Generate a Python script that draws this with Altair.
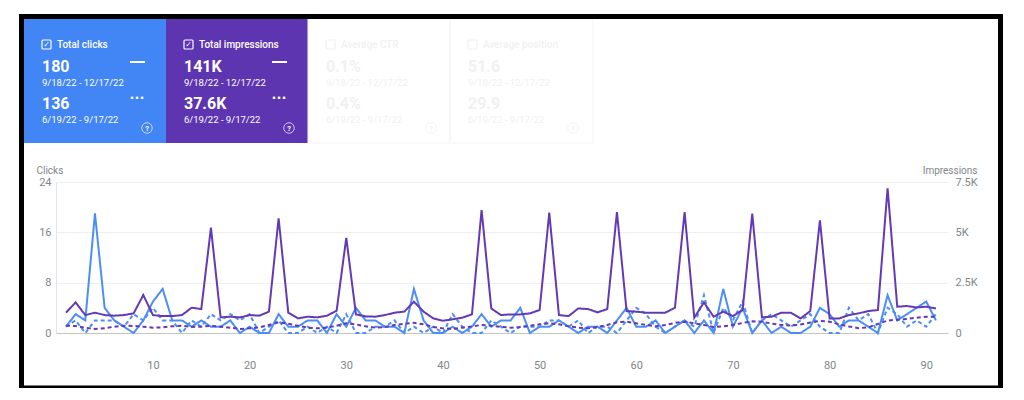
import altair as alt
import pandas as pd

# ---------------- data ----------------
days = list(range(1, 92))

clicks_current = [
    1, 3, 2, 19, 4, 2, 1, 0, 2, 5,
    7, 2, 2, 1, 2, 1, 1, 2, 0, 1,
    0, 0, 3, 1, 1, 2, 2, 0, 3, 1,
    4, 2, 2, 1, 1, 0, 7, 2, 0, 0,
    1, 0, 1, 3, 1, 2, 2, 4, 0, 1,
    1, 2, 1, 0, 1, 1, 0, 2, 4, 1,
    1, 2, 0, 1, 2, 0, 2, 0, 7, 1,
    4, 0, 2, 0, 1, 0, 0, 1, 4, 3,
    1, 2, 2, 1, 0, 6, 2, 3, 4, 5, 2,
]
clicks_previous = [
    1, 2, 0, 2, 2, 2, 1, 3, 2, 4,
    2, 2, 0, 2, 1, 3, 2, 3, 2, 3,
    0, 1, 2, 0, 0, 1, 0, 1, 0, 3,
    0, 0, 1, 1, 2, 0, 1, 0, 1, 0,
    3, 1, 0, 0, 2, 1, 0, 1, 1, 1,
    2, 2, 1, 2, 0, 1, 1, 0, 2, 4,
    3, 1, 0, 1, 2, 1, 6, 0, 4, 2,
    5, 0, 2, 3, 2, 1, 2, 3, 1, 0,
    0, 4, 2, 3, 0, 4, 3, 1, 2, 1, 3,
]
impressions_current = [
    1010, 1520, 890, 1010, 890, 860, 890, 975, 1885, 890,
    840, 840, 890, 1255, 1190, 5230, 775, 810, 775, 890,
    860, 1060, 5700, 1010, 725, 810, 775, 860, 1105, 4730,
    925, 825, 810, 890, 1010, 1060, 1555, 1060, 725, 610,
    680, 760, 925, 6110, 1220, 890, 925, 925, 975, 1140,
    5975, 890, 840, 1220, 1190, 1025, 1190, 6010, 1090, 1060,
    1010, 1010, 1010, 1255, 6010, 760, 1520, 810, 1060, 840,
    1140, 5925, 775, 810, 1010, 1010, 725, 1090, 5600, 725,
    725, 890, 975, 1090, 1140, 7190, 1305, 1340, 1270, 1305, 1220,
]
impressions_previous = [
    360, 350, 265, 200, 230, 315, 360, 350, 315, 265,
    280, 330, 360, 300, 315, 360, 315, 265, 200, 230,
    280, 400, 530, 460, 360, 265, 230, 265, 360, 480,
    430, 330, 265, 300, 400, 460, 510, 430, 300, 230,
    200, 265, 330, 400, 360, 300, 265, 300, 360, 430,
    480, 430, 330, 265, 230, 300, 400, 530, 560, 480,
    400, 330, 400, 500, 560, 480, 400, 300, 330, 400,
    500, 580, 560, 470, 400, 370, 420, 520, 600, 560,
    430, 320, 240, 280, 450, 620, 660, 700, 760, 810, 800,
]

x_ticks = [10, 20, 30, 40, 50, 60, 70, 80, 90]
clicks_ticks = [0, 8, 16, 24]
impressions_ticks = [0, 2500, 5000, 7500]

card_titles = ["Total clicks", "Total impressions", "Average CTR", "Average position"]
card_current = ["180", "141K", "0.1%", "51.6"]
card_previous = ["136", "37.6K", "0.4%", "29.9"]
range_current = "9/18/22 - 12/17/22"
range_previous = "6/19/22 - 9/17/22"

# ---------------- styles ----------------
FONT = "Roboto"
BLUE_CARD = "#4285f4"
PURPLE_CARD = "#5e35b1"
BLUE_LINE = "#4d8ef6"
PURPLE_LINE = "#6339b5"
GRAY = "#80868b"
card_fill = [BLUE_CARD, PURPLE_CARD, "#ffffff", "#ffffff"]
card_ink = ["#ffffff", "#ffffff", "#f1f1f1", "#f1f1f1"]
card_left = [24, 166, 308, 450]
card_right = [166, 308, 450, 593]
CARD_TOP, CARD_BOTTOM = 19, 143

OX, OY = 56, 182          # plot origin on the page
W, H = 892, 151           # plot area


def px(x):
    return x - OX


def py(y):
    return y - OY


one = pd.DataFrame({"k": [0]})

# ---------------- line layers ----------------
df_clicks = pd.DataFrame({
    "day": days * 2,
    "value": clicks_current + clicks_previous,
    "period": ["current"] * 91 + ["previous"] * 91,
})
df_impr = pd.DataFrame({
    "day": days * 2,
    "value": impressions_current + impressions_previous,
    "period": ["current"] * 91 + ["previous"] * 91,
})

x_enc = alt.X(
    "day:Q",
    scale=alt.Scale(domain=[-0.03, 92.25], nice=False, zero=False),
    axis=alt.Axis(values=x_ticks, grid=False, ticks=False, domain=True,
                  domainColor="#c4c4c4", domainWidth=1, labelColor=GRAY,
                  labelFontSize=11, labelFont=FONT, labelPadding=26, title=None),
)
dash_scale = alt.Scale(domain=["previous", "current"], range=[[4, 3], [1, 0]])

clicks_layer = alt.Chart(df_clicks).mark_line(strokeWidth=2, color=BLUE_LINE).encode(
    x=x_enc,
    y=alt.Y("value:Q", scale=alt.Scale(domain=[0, 24], nice=False),
            axis=alt.Axis(orient="left", values=clicks_ticks, grid=True,
                          gridColor="#eeeeee", ticks=False, domain=True,
                          domainColor="#e4e4e4", labelColor=GRAY, labelFontSize=11,
                          labelFont=FONT, labelPadding=5, title="Clicks",
                          titleAngle=0, titleAlign="left", titleBaseline="middle",
                          titleX=-20, titleY=-12, titleFont=FONT, titleFontSize=10,
                          titleFontWeight="normal", titleColor=GRAY)),
    strokeDash=alt.StrokeDash("period:N", scale=dash_scale, legend=None),
)

impr_layer = alt.Chart(df_impr).mark_line(strokeWidth=2, color=PURPLE_LINE).encode(
    x=x_enc,
    y=alt.Y("value:Q", scale=alt.Scale(domain=[0, 7500], nice=False),
            axis=alt.Axis(orient="right", values=impressions_ticks, grid=False,
                          ticks=False, domain=False, labelColor=GRAY, labelFontSize=11,
                          labelFont=FONT, labelPadding=7,
                          labelExpr="datum.value == 0 ? '0' : (datum.value / 1000) + 'K'",
                          title="Impressions", titleAngle=0, titleAlign="right",
                          titleBaseline="middle", titleX=29, titleY=-12,
                          titleFont=FONT, titleFontSize=10, titleFontWeight="normal",
                          titleColor=GRAY)),
    strokeDash=alt.StrokeDash("period:N", scale=dash_scale, legend=None),
)

# ---------------- decorations ----------------
deco = []


def rect(x0, y0, x1, y1, **kw):
    deco.append(alt.Chart(one).mark_rect(**kw).encode(
        x=alt.value(px(x0)), x2=alt.value(px(x1)),
        y=alt.value(py(y0)), y2=alt.value(py(y1))))


def text(t, x, y, size, color, weight="normal", align="left", font=FONT):
    deco.append(alt.Chart(pd.DataFrame({"t": [t]})).mark_text(
        fontSize=size, color=color, fontWeight=weight, align=align,
        baseline="middle", font=font).encode(
        text="t:N", x=alt.value(px(x)), y=alt.value(py(y))))


def hline(x0, x1, y, color, width):
    deco.append(alt.Chart(one).mark_rule(color=color, strokeWidth=width).encode(
        x=alt.value(px(x0)), x2=alt.value(px(x1)), y=alt.value(py(y))))


def circle(x, y, size, color):
    deco.append(alt.Chart(one).mark_point(shape="circle", size=size, filled=False,
                                          stroke=color, strokeWidth=1).encode(
        x=alt.value(px(x)), y=alt.value(py(y))))


# faint outer border of the screenshot
rect(5, 7, 1018, 396, filled=False, stroke="#e8e8e8", strokeWidth=1)

for i in range(4):
    L = card_left[i]
    ink = card_ink[i]
    if i < 2:
        rect(L, CARD_TOP, card_right[i], CARD_BOTTOM, color=card_fill[i])
    else:
        rect(L, CARD_TOP, card_right[i], CARD_BOTTOM, filled=False,
             stroke="#f4f4f4", strokeWidth=1)
    c = L + 18
    # checkbox
    rect(c, 40, c + 9, 49, filled=False, stroke=ink, strokeWidth=1.2, cornerRadius=1)
    if i < 2:
        text("✓", c + 4.5, 44.5, 8, ink, "bold", "center", "DejaVu Sans")
    text(card_titles[i], c + 15, 45, 10, ink, 500)
    text(card_current[i], c, 67, 16, ink, "bold")
    text(range_current, c, 83, 9.5, ink)
    text(card_previous[i], c, 103.5, 16, ink, "bold")
    text(range_previous, c, 120, 9.5, ink)
    if i < 2:
        hline(L + 106, L + 121, 62, ink, 2)
        text("···", L + 113, 98, 13, ink, "bold", "center", "DejaVu Sans")
    circle(L + 123, 128, 110, ink)
    text("?", L + 123, 128.5, 7.5, ink, "bold", "center")

# black frame around the whole screenshot
rect(21.5, 16.5, 1000.5, 388, filled=False, stroke="#000000", strokeWidth=5)

chart = alt.layer(*deco, clicks_layer, impr_layer).resolve_scale(
    y="independent"
).properties(
    width=W, height=H,
    autosize=alt.AutoSizeParams(type="none"),
    padding={"left": 48, "top": 174, "right": 60, "bottom": 55},
    background="#ffffff",
).configure_view(strokeWidth=0)

chart.save("out.html", embed_options={"renderer": "svg", "actions": False})
